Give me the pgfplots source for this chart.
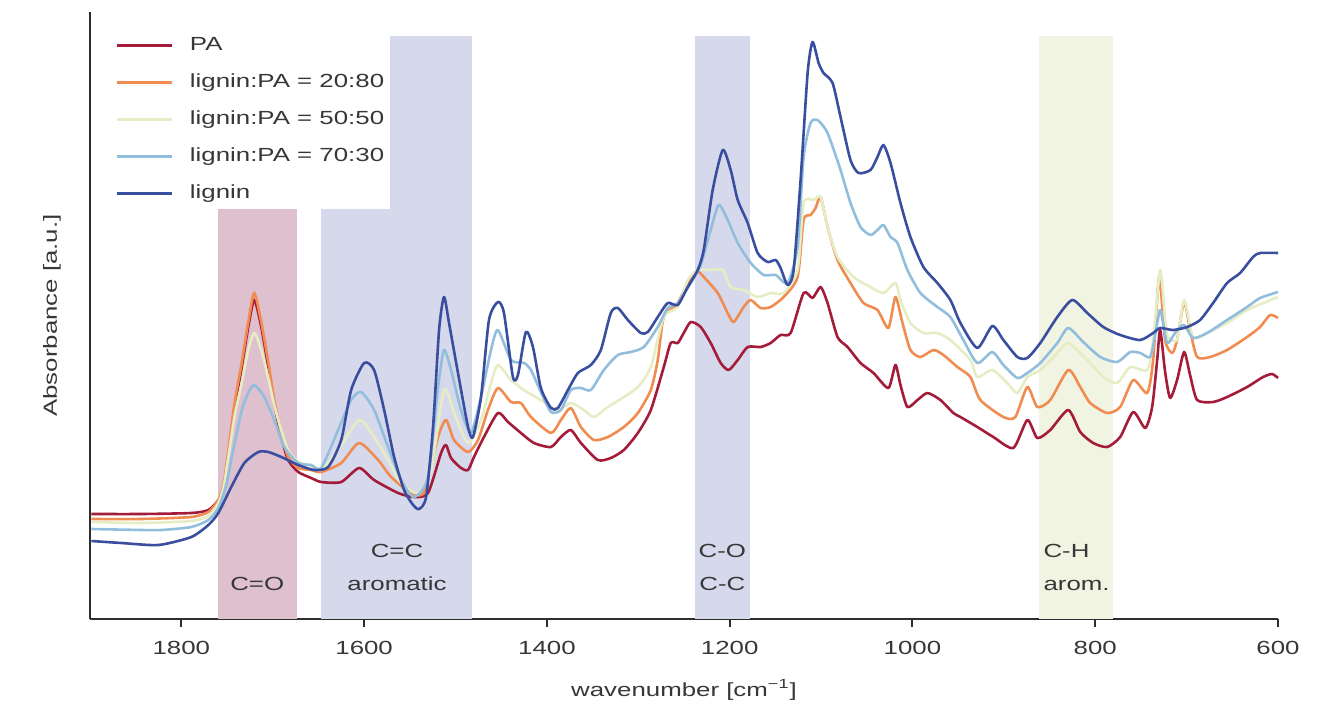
\documentclass[border=0pt]{standalone}
\usepackage{fontspec}
\setmainfont{Liberation Sans}[FakeStretch=1.36]
\usepackage{pgfplots}
\pgfplotsset{compat=1.18}

\definecolor{cPA}{RGB}{165,28,58}
\definecolor{c2080}{RGB}{240,140,80}
\definecolor{c5050}{RGB}{230,236,196}
\definecolor{c7030}{RGB}{146,190,222}
\definecolor{cLig}{RGB}{58,78,160}
\definecolor{bandCO}{RGB}{222,192,206}
\definecolor{bandCC}{RGB}{214,217,236}
\definecolor{bandCH}{RGB}{241,244,226}
\definecolor{axgray}{RGB}{45,45,45}
\definecolor{txtgray}{RGB}{55,55,55}

\newcommand{\lblfont}{\fontsize{9.5}{11}\selectfont}

\begin{document}
\begin{tikzpicture}[x=1pt,y=1pt]
\useasboundingbox (-45,-44.5) rectangle (622,309.5);
\begin{axis}[
  anchor=south west, at={(0,0)},
  width=594pt, height=303.5pt, scale only axis,
  x dir=reverse, xmin=600, xmax=1900, ymin=0, ymax=6.07,
  axis x line*=bottom, axis y line*=left,
  axis line style={-, line width=1pt, color=axgray},
  xtick={600,800,1000,1200,1400,1600,1800}, ytick=\empty,
  tick align=outside, major tick length=4pt,
  tick style={line width=1pt, color=axgray},
  /pgf/number format/assume math mode=true,
  /pgf/number format/1000 sep={},
  ticklabel style={font=\lblfont, text=txtgray},
  xticklabel style={anchor=north, inner sep=0pt, yshift=-7pt},
  xlabel={wavenumber [cm\textsuperscript{−1}]},
  ylabel={Absorbance [a.u.]},
  label style={font=\lblfont, text=txtgray},
  xlabel style={at={(axis description cs:0.5,-0.117)}, anchor=center},
  ylabel style={at={(axis description cs:-0.032,0.5)}, anchor=center},
  clip=false,
  legend style={at={(0.0160,0.970)}, anchor=north west, draw=none, fill=white,
    inner sep=3pt, font=\lblfont, text=txtgray, row sep=9.5pt,
    nodes={inner sep=0pt, text height=7pt, text depth=2pt},
    /tikz/every odd column/.append style={column sep=8.5pt}},
  legend cell align=left,
  legend image code/.code={\draw[#1, line width=1.3pt] (0pt,0pt) -- (27.5pt,0pt);},
  every axis plot/.append style={line width=1.3pt, line join=round, smooth, tension=0.4},
]

% absorption bands
\addplot[fill=bandCO, draw=none, forget plot, sharp plot] coordinates {(1760,0) (1760,5.83) (1674,5.83) (1674,0)} -- cycle;
\addplot[fill=bandCC, draw=none, forget plot, sharp plot] coordinates {(1647,0) (1647,5.83) (1482,5.83) (1482,0)} -- cycle;
\addplot[fill=bandCC, draw=none, forget plot, sharp plot] coordinates {(1238,0) (1238,5.83) (1178,5.83) (1178,0)} -- cycle;
\addplot[fill=bandCH, draw=none, forget plot, sharp plot] coordinates {(861,0) (861,5.83) (781,5.83) (781,0)} -- cycle;

\node[font=\lblfont, text=txtgray, anchor=base] at (axis cs:1717,0.29) {C=O};
\node[font=\lblfont, text=txtgray, anchor=base] at (axis cs:1564,0.62) {C=C};
\node[font=\lblfont, text=txtgray, anchor=base] at (axis cs:1564,0.29) {aromatic};
\node[font=\lblfont, text=txtgray, anchor=base] at (axis cs:1208,0.62) {C-O};
\node[font=\lblfont, text=txtgray, anchor=base] at (axis cs:1208,0.29) {C-C};
\node[font=\lblfont, text=txtgray, anchor=base west, inner sep=0pt] at (axis cs:857,0.62) {C-H};
\node[font=\lblfont, text=txtgray, anchor=base west, inner sep=0pt] at (axis cs:857,0.29) {arom.};

% PA
\addplot[color=cPA] table {
w a
1898.4 1.05
1843.7 1.05
1789.1 1.06
1770.5 1.09
1759.6 1.19
1753.0 1.36
1742.1 2.09
1734.4 2.49
1726.8 2.92
1720.2 3.19
1712.6 2.92
1704.9 2.52
1698.4 2.16
1690.7 1.82
1683.1 1.59
1672.1 1.47
1657.9 1.41
1647.0 1.37
1625.1 1.37
1605.5 1.51
1589.1 1.39
1562.8 1.26
1545.4 1.22
1530.1 1.26
1515.8 1.66
1510.4 1.74
1504.9 1.61
1494.0 1.51
1486.3 1.49
1479.8 1.62
1468.9 1.82
1453.6 2.06
1442.6 1.97
1428.4 1.86
1414.2 1.76
1395.6 1.72
1384.7 1.82
1373.8 1.89
1362.8 1.76
1344.3 1.59
1330.1 1.61
1315.8 1.69
1300.5 1.86
1286.3 2.09
1272.1 2.52
1264.5 2.76
1256.8 2.76
1250.3 2.86
1242.6 2.97
1231.7 2.92
1220.8 2.76
1209.8 2.56
1201.1 2.49
1191.2 2.59
1180.3 2.72
1166.1 2.72
1155.2 2.76
1144.3 2.84
1133.3 2.86
1119.1 3.26
1109.3 3.21
1100.5 3.32
1092.9 3.16
1082.0 2.82
1071.0 2.72
1056.8 2.56
1042.6 2.46
1026.3 2.31
1018.6 2.54
1013.1 2.34
1005.5 2.12
994.5 2.19
983.6 2.26
969.4 2.19
955.2 2.06
947.5 2.02
929.0 1.92
911.5 1.82
889.6 1.71
874.3 1.99
863.4 1.81
849.2 1.89
829.5 2.09
816.4 1.87
802.2 1.76
786.9 1.72
772.7 1.82
758.4 2.07
745.3 1.91
737.7 2.12
732.2 2.59
728.9 2.89
723.5 2.47
718.0 2.21
710.4 2.39
702.7 2.67
696.2 2.44
688.5 2.19
671.0 2.17
655.7 2.22
633.8 2.32
616.3 2.42
606.5 2.45
600.0 2.41
};
\addlegendentry{PA}

% lignin:PA = 20:80
\addplot[color=c2080] table {
w a
1898.4 1.00
1843.7 1.00
1789.1 1.02
1770.5 1.07
1759.6 1.19
1753.0 1.39
1742.1 2.14
1734.4 2.54
1726.8 2.97
1720.2 3.26
1712.6 2.97
1704.9 2.57
1698.4 2.19
1690.7 1.86
1683.1 1.62
1672.1 1.51
1657.9 1.49
1647.0 1.47
1625.1 1.56
1605.5 1.76
1584.7 1.59
1570.5 1.42
1548.6 1.26
1534.4 1.27
1519.1 1.82
1510.4 1.99
1501.6 1.79
1486.3 1.67
1475.4 1.79
1464.5 2.09
1453.6 2.31
1439.3 2.17
1428.4 2.16
1417.5 2.02
1395.6 1.86
1384.7 1.99
1373.8 2.11
1362.8 1.92
1348.6 1.79
1333.3 1.82
1315.8 1.92
1300.5 2.06
1286.3 2.29
1278.7 2.59
1272.1 3.02
1256.8 3.16
1245.9 3.36
1235.0 3.47
1228.4 3.42
1213.1 3.26
1202.2 3.06
1195.6 2.97
1184.7 3.12
1177.0 3.19
1166.1 3.11
1155.2 3.12
1141.0 3.22
1125.7 3.42
1119.1 3.99
1111.5 4.04
1106.0 4.11
1100.5 4.22
1092.9 3.92
1082.0 3.59
1067.8 3.36
1053.6 3.16
1038.3 3.09
1026.3 2.91
1018.6 3.22
1010.9 2.96
1002.2 2.69
991.3 2.62
977.0 2.69
966.1 2.64
950.8 2.52
936.6 2.42
925.7 2.19
900.5 2.02
887.4 2.02
874.3 2.32
863.4 2.12
849.2 2.19
829.5 2.49
816.4 2.32
805.5 2.16
786.9 2.06
772.7 2.12
758.4 2.39
743.1 2.26
736.6 2.59
730.0 3.42
723.5 2.79
715.8 2.66
710.4 2.79
702.7 3.17
696.2 2.89
688.5 2.62
674.3 2.62
655.7 2.69
633.8 2.82
619.6 2.92
608.7 3.04
600.0 3.01
};
\addlegendentry{lignin:PA = 20:80}

% lignin:PA = 50:50
\addplot[color=c5050] table {
w a
1898.4 0.97
1843.7 0.96
1789.1 0.98
1770.5 1.03
1759.6 1.16
1753.0 1.36
1742.1 2.01
1734.4 2.34
1726.8 2.69
1720.2 2.86
1712.6 2.69
1704.9 2.41
1698.4 2.14
1690.7 1.89
1683.1 1.69
1672.1 1.57
1657.9 1.53
1647.0 1.49
1628.4 1.69
1605.5 1.99
1589.1 1.82
1573.8 1.59
1559.6 1.36
1541.0 1.26
1526.8 1.49
1512.6 2.29
1501.6 2.06
1486.3 1.76
1472.1 1.99
1461.2 2.36
1453.6 2.54
1439.3 2.39
1425.1 2.29
1406.6 2.19
1388.0 2.09
1373.8 2.16
1359.6 2.09
1348.6 2.02
1333.3 2.12
1315.8 2.22
1300.5 2.32
1286.3 2.52
1272.1 3.02
1256.8 3.12
1245.9 3.39
1235.0 3.49
1220.8 3.49
1207.6 3.49
1198.9 3.32
1184.7 3.29
1169.4 3.22
1155.2 3.26
1141.0 3.26
1125.7 3.49
1119.1 4.16
1108.2 4.19
1100.5 4.22
1092.9 3.92
1082.0 3.62
1064.5 3.42
1045.9 3.32
1031.7 3.26
1018.6 3.36
1013.1 3.19
1002.2 2.96
988.0 2.86
972.7 2.86
958.5 2.79
936.6 2.59
929.0 2.42
912.6 2.49
896.2 2.36
885.2 2.26
874.3 2.42
860.1 2.49
841.5 2.66
829.5 2.76
808.7 2.59
791.2 2.42
775.9 2.36
761.7 2.52
743.1 2.49
736.6 2.79
728.9 3.49
723.5 2.99
720.2 2.82
710.4 2.79
702.7 3.19
692.9 2.82
677.6 2.86
655.7 2.96
633.8 3.09
600.0 3.22
};
\addlegendentry{lignin:PA = 50:50}

% lignin:PA = 70:30
\addplot[color=c7030] table {
w a
1898.4 0.90
1843.7 0.89
1821.9 0.89
1789.1 0.92
1770.5 0.99
1759.6 1.11
1750.8 1.34
1745.4 1.59
1734.4 2.07
1726.8 2.26
1720.2 2.34
1709.3 2.22
1698.4 1.99
1687.4 1.72
1672.1 1.56
1657.9 1.54
1647.0 1.51
1628.4 1.89
1614.2 2.19
1603.3 2.27
1589.1 2.09
1573.8 1.72
1559.6 1.39
1545.4 1.22
1530.1 1.42
1519.1 2.32
1512.6 2.69
1504.9 2.49
1494.0 2.09
1483.1 1.86
1472.1 2.22
1461.2 2.69
1453.6 2.89
1439.3 2.59
1425.1 2.56
1417.5 2.49
1406.6 2.27
1395.6 2.07
1384.7 2.09
1373.8 2.29
1362.8 2.31
1351.9 2.29
1337.7 2.49
1322.4 2.64
1308.2 2.67
1294.0 2.72
1278.7 2.92
1267.8 3.11
1256.8 3.16
1242.6 3.36
1231.7 3.54
1220.8 3.89
1212.0 4.14
1202.2 3.99
1191.2 3.76
1177.0 3.56
1162.8 3.44
1149.7 3.44
1136.6 3.36
1125.7 3.72
1119.1 4.62
1111.5 4.96
1103.8 4.99
1092.9 4.86
1078.7 4.49
1067.8 4.16
1056.8 3.92
1045.9 3.84
1038.3 3.89
1031.7 3.94
1024.0 3.82
1016.4 3.76
1005.5 3.49
991.3 3.26
972.7 3.12
958.5 3.02
944.3 2.79
929.0 2.56
912.6 2.67
900.5 2.54
885.2 2.41
874.3 2.46
860.1 2.56
841.5 2.76
829.5 2.91
813.1 2.77
794.5 2.62
775.9 2.57
761.7 2.67
750.8 2.66
739.9 2.62
734.4 2.84
728.9 3.09
723.5 2.84
720.2 2.76
710.4 2.89
702.7 2.94
692.9 2.81
677.6 2.86
655.7 2.99
633.8 3.12
619.6 3.21
600.0 3.27
};
\addlegendentry{lignin:PA = 70:30}

% lignin
\addplot[color=cLig] table {
w a
1898.4 0.78
1865.6 0.76
1825.1 0.74
1789.1 0.82
1770.5 0.94
1759.6 1.06
1745.4 1.32
1731.1 1.56
1715.8 1.67
1704.9 1.67
1690.7 1.62
1672.1 1.54
1654.6 1.49
1639.3 1.52
1625.1 1.79
1614.2 2.29
1600.0 2.56
1589.1 2.49
1578.1 2.09
1567.2 1.62
1556.3 1.29
1546.4 1.14
1539.9 1.10
1532.2 1.22
1524.6 1.92
1518.0 2.89
1512.6 3.22
1507.1 2.96
1497.3 2.46
1486.3 1.92
1480.9 1.82
1472.1 2.22
1463.4 2.99
1453.6 3.17
1447.0 3.06
1437.2 2.42
1431.7 2.44
1423.0 2.87
1415.3 2.72
1406.6 2.31
1395.6 2.11
1388.0 2.11
1377.0 2.29
1366.1 2.46
1351.9 2.54
1341.0 2.69
1330.1 3.06
1322.4 3.11
1311.4 2.99
1297.3 2.86
1289.6 2.87
1278.7 3.02
1267.8 3.16
1256.8 3.14
1245.9 3.32
1235.0 3.49
1228.4 3.69
1218.6 4.29
1207.6 4.69
1198.9 4.49
1191.2 4.19
1180.3 3.96
1169.4 3.66
1158.4 3.57
1149.7 3.59
1144.3 3.51
1136.6 3.34
1130.0 3.49
1122.4 4.39
1114.7 5.46
1109.3 5.77
1102.7 5.56
1097.3 5.46
1087.4 5.36
1078.7 5.02
1067.8 4.59
1059.0 4.46
1045.9 4.49
1038.3 4.62
1031.7 4.74
1024.0 4.56
1013.1 4.16
1002.2 3.82
988.0 3.52
972.7 3.36
958.5 3.19
947.5 2.96
929.0 2.71
912.6 2.93
900.5 2.79
885.2 2.62
874.3 2.61
860.1 2.76
841.5 3.02
825.1 3.19
808.7 3.06
791.2 2.92
772.7 2.84
750.8 2.79
736.6 2.86
728.9 2.91
714.7 2.89
699.4 2.92
685.2 2.99
671.0 3.16
655.7 3.36
641.4 3.46
627.3 3.62
619.6 3.66
600.0 3.66
};
\addlegendentry{lignin}

\end{axis}
\end{tikzpicture}
\end{document}
